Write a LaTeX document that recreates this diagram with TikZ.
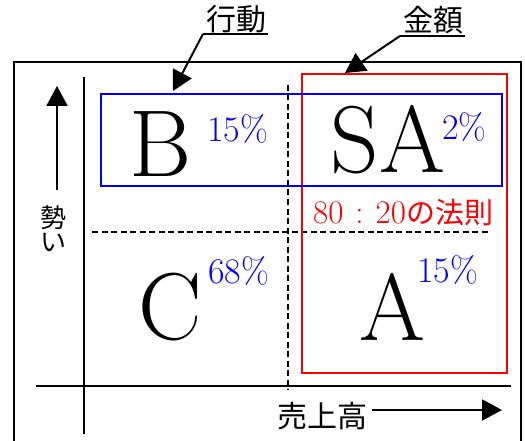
\documentclass[tikz,border=0pt]{standalone}
\usepackage{fontspec}
\newfontfamily\jp{Noto Sans CJK JP}
\usetikzlibrary{arrows.meta}
\definecolor{myblue}{RGB}{0,0,255}
\definecolor{myred}{RGB}{255,0,0}
\tikzset{
  blk/.style={line width=2pt,black},
  dsh/.style={line width=1.6pt,dash pattern=on 6pt off 3.5pt},
  bigarrow/.style={line width=2pt,-{Triangle[length=20pt,width=21pt]}},
  bigl/.style={font=\fontsize{95}{95}\selectfont,anchor=base,inner sep=0pt},
  pct/.style={font=\fontsize{36}{36}\selectfont,text=myblue,anchor=base west,inner sep=0pt},
  jlab/.style={font=\jp\fontsize{30}{30}\selectfont,inner sep=0pt,anchor=base},
}
\begin{document}
\begin{tikzpicture}[x=1pt,y=-1pt]
\useasboundingbox (0,0) rectangle (525,441);
% outer frame
\draw[blk] (14,441) -- (14,62) -- (521,62) -- (521,441);
% axes
\draw[blk] (84,77) -- (84,434);
\draw[blk] (36,386) -- (511,386);
% dashed dividers
\draw[dsh] (92,232) -- (490,232);
\draw[dsh] (288,85) -- (288,390);
% coloured boxes
\draw[myred,line width=2pt] (302,74) rectangle (507,373);
\draw[myblue,line width=2pt] (101,94) rectangle (502,186);
% big letters
\node[bigl] (B) at (161,177) {B};
\node[bigl] (SA) at (388,173) {SA};
\node[bigl] (C) at (170,339) {C};
\node[bigl] (A) at (392,340) {A};
% percentages
\node[pct] (pB) at (207,142) {15\%};
\node[pct] (pSA) at (442,140) {2\%};
\node[pct] (pC) at (208,283) {68\%};
\node[pct] (pA) at (417,282) {15\%};
% rule label
\node[font=\fontsize{33}{33}\selectfont,text=myred,anchor=base west,inner sep=0pt] (rule) at (313,223) {80\hspace{12pt}:\hspace{12pt}20{\jp\fontsize{29}{29}\selectfont の法則}};
% vertical axis arrow and label
\coordinate (vb) at (57,190);
\coordinate (vt) at (57,86);
\draw[bigarrow] (vb) -- (vt);
\node[font=\jp\fontsize{26}{24}\selectfont,align=center,inner sep=0pt] (sei) at (53,229) {勢\\い};
% horizontal axis label and arrow
\node[jlab] (uri) at (322,427) {売上高};
\coordinate (hs) at (372,410);
\coordinate (he) at (502,410);
\draw[bigarrow] (hs) -- (he);
% top labels
\node[jlab] (kodo) at (236,31) {行動};
\coordinate (k1) at (203,34);
\coordinate (k2) at (268,34);
\coordinate (kt) at (173,91);
\draw[line width=2pt] (k1) -- (k2);
\draw[bigarrow] (k1) -- (kt);
\node[jlab] (kin) at (433,32) {金額};
\coordinate (g1) at (400,36);
\coordinate (g2) at (465,36);
\coordinate (gt) at (345,73);
\draw[line width=2pt] (g1) -- (g2);
\draw[bigarrow] (g1) -- (gt);
\end{tikzpicture}
\end{document}
